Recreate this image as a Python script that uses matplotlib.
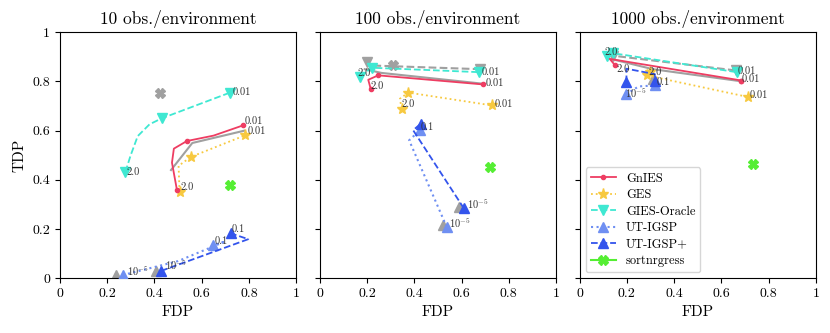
import numpy as np
import matplotlib
matplotlib.use("Agg")
import matplotlib.pyplot as plt

plt.rcParams["font.family"] = ["cmr10", "DejaVu Serif"]
plt.rcParams["mathtext.fontset"] = "cm"
plt.rcParams["axes.formatter.use_mathtext"] = True
plt.rcParams["axes.unicode_minus"] = False

titles = ["10 obs./environment", "100 obs./environment", "1000 obs./environment"]
methods = ["GnIES", "GES", "GIES-Oracle", "UT-IGSP", "UT-IGSP+", "sortnrgress"]

# (fdp, tdp) per panel, ordered from first label to last label
gnies_fdp = [[0.495, 0.474, 0.482, 0.537, 0.65, 0.776], [0.215, 0.205, 0.247, 0.692], [0.148, 0.127, 0.685]]
gnies_tdp = [[0.359, 0.47, 0.527, 0.558, 0.58, 0.622], [0.771, 0.807, 0.825, 0.788], [0.868, 0.892, 0.804]]
ges_fdp = [[0.506, 0.502, 0.553, 0.783], [0.346, 0.339, 0.374, 0.727], [0.297, 0.283, 0.713]]
ges_tdp = [[0.352, 0.457, 0.493, 0.581], [0.69, 0.73, 0.755, 0.703], [0.838, 0.825, 0.737]]
gies_fdp = [[0.277, 0.298, 0.329, 0.379, 0.43, 0.72], [0.169, 0.219, 0.674], [0.116, 0.141, 0.664]]
gies_tdp = [[0.432, 0.497, 0.578, 0.626, 0.65, 0.755], [0.818, 0.856, 0.838], [0.902, 0.915, 0.838]]
utigsp_fdp = [[0.265, 0.50, 0.70, 0.648], [0.537, 0.378, 0.424], [0.195, 0.25, 0.318]]
utigsp_tdp = [[0.013, 0.07, 0.15, 0.134], [0.209, 0.561, 0.602], [0.748, 0.78, 0.784]]
utigspp_fdp = [[0.428, 0.60, 0.797, 0.722], [0.61, 0.395, 0.428], [0.198, 0.198, 0.318, 0.318]]
utigspp_tdp = [[0.030, 0.09, 0.159, 0.183], [0.284, 0.602, 0.629], [0.797, 0.852, 0.83, 0.804]]
sort_fdp = [0.72, 0.72, 0.732]
sort_tdp = [0.379, 0.453, 0.464]

# grey twin runs drawn underneath
grey_fdp = [[0.78, 0.56, 0.47], [0.70, 0.26, 0.19], [0.69, 0.31, 0.14]]
grey_tdp = [[0.60, 0.55, 0.44], [0.79, 0.835, 0.85], [0.80, 0.85, 0.89]]
grey_dash_fdp = [[], [0.68, 0.22, 0.20], [0.66, 0.14]]
grey_dash_tdp = [[], [0.85, 0.865, 0.88], [0.845, 0.905]]
grey_tri_fdp = [[0.237, 0.407], [0.52, 0.59], [0.31]]
grey_tri_tdp = [[0.013, 0.03], [0.215, 0.29], [0.81]]
grey_x_fdp = [0.423, 0.308, None]
grey_x_tdp = [0.755, 0.868, None]

# which end points carry a parameter label: (series, index, text, offset in points)
labels = [
    [("gnies", -1, "0.01", (1, 3)), ("ges", -1, "0.01", (2, 3)), ("gies", -1, "0.01", (2, 0)),
     ("gies", 0, "2.0", (1, 0)), ("ges", 0, "2.0", (1, 3)), ("utigsp", -1, "0.1", (1, 3)),
     ("utigspp", -1, "0.1", (1, 3)), ("utigsp", 0, "$10^{-5}$", (3, 3)),
     ("utigspp", 0, "$10^{-5}$", (3, 4))],
    [("gnies", -1, "0.01", (2, 1)), ("ges", -1, "0.01", (2, 1)), ("gies", -1, "0.01", (2, 0)),
     ("gies", 0, "2.0", (-2, 3)), ("gnies", 0, "2.0", (0, 2)), ("ges", 0, "2.0", (0, 3)),
     ("utigspp", -1, "0.1", (0, -3)), ("utigsp", 0, "$10^{-5}$", (2, 3)),
     ("utigspp", 0, "$10^{-5}$", (2, 3))],
    [("gnies", -1, "0.01", (0, 1)), ("ges", -1, "0.01", (1, 1)), ("gies", -1, "0.01", (1, 1)),
     ("gies", 1, "2.0", (-6, 1)), ("gnies", 0, "2.0", (1, -3)), ("ges", 0, "2.0", (-1, 0)),
     ("utigspp", -1, "0.1", (1, -1)), ("utigspp", 0, "$10^{-5}$", (-1, -8))],
]
series = {"gnies": (gnies_fdp, gnies_tdp), "ges": (ges_fdp, ges_tdp), "gies": (gies_fdp, gies_tdp),
          "utigsp": (utigsp_fdp, utigsp_tdp), "utigspp": (utigspp_fdp, utigspp_tdp)}

red = "#ee3d62"
yellow = "#f7c940"
cyan = "#3fe8d2"
lblue = "#6f8ff2"
dblue = "#3354ec"
green = "#55ee33"
grey = "#a0a0a0"

fig, axes = plt.subplots(1, 3, figsize=(8.3, 3.33), dpi=100)
fig.subplots_adjust(left=0.0723, right=0.983, bottom=0.1643, top=0.903, wspace=0.1)

for i, ax in enumerate(axes):
    ax.plot(grey_fdp[i], grey_tdp[i], "-", color=grey, lw=1.5, zorder=1)
    if grey_dash_fdp[i]:
        ax.plot(grey_dash_fdp[i], grey_dash_tdp[i], "--", color=grey, lw=1.5, marker="v",
                ms=7, markevery=[0, len(grey_dash_fdp[i]) - 1], zorder=1)
    ax.plot(grey_tri_fdp[i], grey_tri_tdp[i], "^", color=grey, ms=7, zorder=1)
    if grey_x_fdp[i] is not None:
        ax.plot(grey_x_fdp[i], grey_x_tdp[i], "X", color=grey, ms=7, zorder=1)

    n = len(gnies_fdp[i])
    ax.plot(gnies_fdp[i], gnies_tdp[i], "-", color=red, lw=1.3, marker="o", ms=3,
            markevery=[0, 3 if i == 0 else 2, n - 1], label=methods[0], zorder=4)
    n = len(ges_fdp[i])
    ax.plot(ges_fdp[i], ges_tdp[i], ":", color=yellow, lw=1.3, marker="*", ms=8,
            markevery=[0, 2 if n > 3 else 1, n - 1], label=methods[1], zorder=3)
    n = len(gies_fdp[i])
    ax.plot(gies_fdp[i], gies_tdp[i], "--", color=cyan, lw=1.3, marker="v", ms=7,
            markevery=[0, n - 2, n - 1], label=methods[2], zorder=3)
    n = len(utigsp_fdp[i])
    ax.plot(utigsp_fdp[i], utigsp_tdp[i], ":", color=lblue, lw=1.5, marker="^", ms=7,
            markevery=[0, n - 1], label=methods[3], zorder=3)
    n = len(utigspp_fdp[i])
    ax.plot(utigspp_fdp[i], utigspp_tdp[i], "--", color=dblue, lw=1.3, marker="^", ms=7,
            markevery=[0, n - 1], label=methods[4], zorder=3)
    ax.plot(sort_fdp[i], sort_tdp[i], "X", color=green, ms=7, ls="-", label=methods[5], zorder=3)

    for name, k, txt, off in labels[i]:
        xs, ys = series[name]
        ax.annotate(txt, (xs[i][k], ys[i][k]), xytext=off, textcoords="offset points",
                    fontsize=7.5, color="#333333", va="center", zorder=6)

    ax.set_xlim(0, 1)
    ax.set_ylim(0, 1)
    ax.set_xticks([0, 0.2, 0.4, 0.6, 0.8, 1])
    ax.set_xticklabels(["0", "0.2", "0.4", "0.6", "0.8", "1"])
    ax.set_yticks([0, 0.2, 0.4, 0.6, 0.8, 1])
    ax.set_yticklabels(["0", "0.2", "0.4", "0.6", "0.8", "1"] if i == 0 else [])
    ax.tick_params(labelsize=10)
    ax.set_title(titles[i], fontsize=12.5)
    ax.set_xlabel("FDP", fontsize=11)

axes[0].set_ylabel("TDP", fontsize=11)
axes[2].legend(loc="lower left", fontsize=9, handlelength=2, borderpad=0.4, labelspacing=0.35)

plt.savefig("out.png", dpi=100)
